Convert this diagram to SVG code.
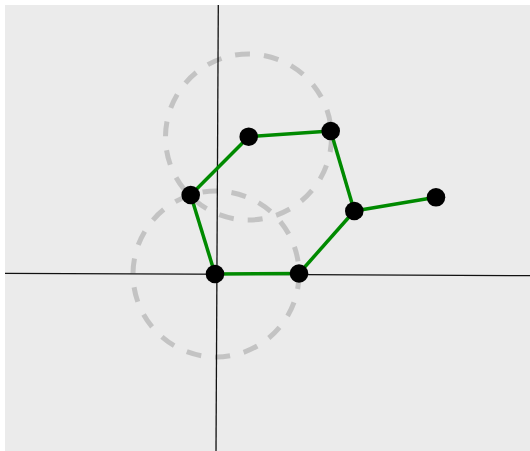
<svg xmlns="http://www.w3.org/2000/svg" width="530" height="451" viewBox="0 0 530 451">
<style>
.axis{stroke:#111;stroke-width:1.3;fill:none}
.ring{fill:none;stroke:#000;stroke-opacity:0.17;stroke-width:5;stroke-dasharray:15 14}
.edge{stroke:#008a00;stroke-width:3.5;fill:none}
.node{fill:#000}
</style>
<rect x="5" y="5" width="525" height="446" fill="#ebebeb"/>
<g id="axes">
<line class="axis" x1="5" y1="273.3" x2="530" y2="275.7"/>
<line class="axis" x1="218.3" y1="5" x2="216" y2="451"/>
</g>
<g id="rings">
<circle class="ring" cx="248.5" cy="137" r="83"/>
<circle class="ring" cx="216" cy="274" r="83"/>
</g>
<g id="connectors">
<line class="edge" x1="215" y1="274" x2="299" y2="273.5"/>
<line class="edge" x1="299" y1="273.5" x2="354.3" y2="211"/>
<line class="edge" x1="354.3" y1="211" x2="436" y2="197.3"/>
<line class="edge" x1="354.3" y1="211" x2="330.7" y2="131"/>
<line class="edge" x1="330.7" y1="131" x2="248.7" y2="136.7"/>
<line class="edge" x1="248.7" y1="136.7" x2="190.7" y2="195"/>
<line class="edge" x1="190.7" y1="195" x2="215" y2="274"/>
</g>
<g id="nA"><circle class="node" cx="215" cy="274" r="9.3"/></g>
<g id="nB"><circle class="node" cx="299" cy="273.5" r="9.3"/></g>
<g id="nC"><circle class="node" cx="354.3" cy="211" r="9.3"/></g>
<g id="nD"><circle class="node" cx="436" cy="197.3" r="9.3"/></g>
<g id="nE"><circle class="node" cx="330.7" cy="131" r="9.3"/></g>
<g id="nF"><circle class="node" cx="248.7" cy="136.7" r="9.3"/></g>
<g id="nG"><circle class="node" cx="190.7" cy="195" r="9.3"/></g>
</svg>
